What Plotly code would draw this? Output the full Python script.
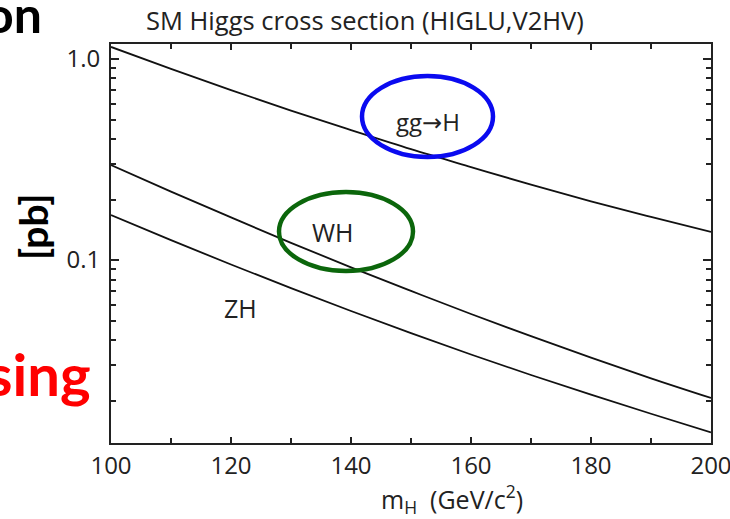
import plotly.graph_objects as go

# Higgs boson mass points (GeV/c^2)
m_higgs = [100, 110, 120, 130, 140, 150, 160, 170, 180, 190, 200]

# Production cross sections (pb)
sigma_ggH = [1.148, 0.893, 0.700, 0.554, 0.443, 0.356, 0.290, 0.237, 0.196, 0.164, 0.138]
sigma_WH = [0.297, 0.219, 0.163, 0.1218, 0.0920, 0.0702, 0.0539, 0.0418, 0.0327, 0.0258, 0.0206]
sigma_ZH = [0.1675, 0.1256, 0.0950, 0.0725, 0.0558, 0.0433, 0.0339, 0.0268, 0.0214, 0.0172, 0.0139]

x_ticks = [100, 120, 140, 160, 180, 200]
y_ticks = [0.1, 1.0]
y_tick_text = ["0.1", "1.0"]
y_minor = [0.02, 0.03, 0.04, 0.05, 0.06, 0.07, 0.08, 0.09,
           0.2, 0.3, 0.4, 0.5, 0.6, 0.7, 0.8, 0.9]

FONT = "Open Sans"
TXT = "#222222"

# plot-area geometry in pixels (used to place paper-referenced annotations)
L, R, T, B = 111, 711, 44, 443
W, H = R - L, B - T


def px(x):
    return (x - L) / W


def py(y):
    return (B - y) / H


def note(text, x, y, size, color=TXT, family=FONT, xanchor="center", angle=0):
    fig.add_annotation(text=text, xref="paper", yref="paper", x=px(x), y=py(y),
                       xanchor=xanchor, yanchor="middle", showarrow=False,
                       textangle=angle, font=dict(size=size, family=family, color=color))


fig = go.Figure()
for ys in (sigma_ggH, sigma_WH, sigma_ZH):
    fig.add_trace(go.Scatter(
        x=m_higgs, y=ys, mode="lines",
        line=dict(color="#111111", width=1.8, shape="spline"),
        showlegend=False, hoverinfo="skip",
    ))

fig.update_layout(
    width=730, height=519,
    margin=dict(l=L, r=730 - R, t=T, b=519 - B, autoexpand=False),
    paper_bgcolor="white", plot_bgcolor="white",
    font=dict(family=FONT, color=TXT, size=20),
    xaxis=dict(
        range=[100, 200], tickvals=x_ticks, automargin=False,
        ticklabeloverflow="allow",
        ticks="inside", ticklen=6, tickwidth=1.5, tickcolor="#222",
        showline=True, linecolor="#222", linewidth=2, mirror="ticks",
        showgrid=False, zeroline=False,
        tickfont=dict(size=24, family=FONT, color=TXT),
        minor=dict(ticks="inside", ticklen=5, dtick=10, tickcolor="#222", tickwidth=1.5, showgrid=False),
    ),
    yaxis=dict(
        type="log", range=[-1.910, 0.0746], automargin=False,
        ticklabeloverflow="allow",
        tickvals=y_ticks, ticktext=y_tick_text,
        ticks="inside", ticklen=8, tickwidth=1.5, tickcolor="#222",
        showline=True, linecolor="#222", linewidth=2, mirror="ticks",
        showgrid=False, zeroline=False,
        tickfont=dict(size=24, family=FONT, color=TXT),
        ticklabelstandoff=4,
        minor=dict(ticks="inside", ticklen=5, tickvals=y_minor, tickcolor="#222", tickwidth=1.5, showgrid=False),
    ),
)

# Chart title and x-axis title
note("SM Higgs cross section (HIGLU,V2HV)", 365, 20, 25.5)
note("m<sub>H</sub>&nbsp;&nbsp;(GeV/c<sup>2</sup>)", 452, 499, 25)

# Process labels
note("gg<span style='font-family:DejaVu Sans'>\u2192</span>H", 428, 121, 24)
note("WH", 333, 232, 25)
note("ZH", 240, 308, 25)

# Highlight ellipses
fig.add_shape(type="circle", xref="paper", yref="paper",
              x0=px(362), x1=px(493), y0=py(157), y1=py(76),
              line=dict(color="#0a0af0", width=4.5))
fig.add_shape(type="circle", xref="paper", yref="paper",
              x0=px(279), x1=px(413), y0=py(271), y1=py(192),
              line=dict(color="#0b660b", width=4.5))

# Slide text around the chart
note("<b>on</b>", 44, 14, 50, color="black", family="Lato", xanchor="right")
note("<b>[pb]</b>", 33, 227, 39, color="black", family="Lato", angle=-90)
note("<b>sing</b>", 93, 373, 58, color="#ff0000", family="Lato", xanchor="right")

fig.write_html("out.html")
